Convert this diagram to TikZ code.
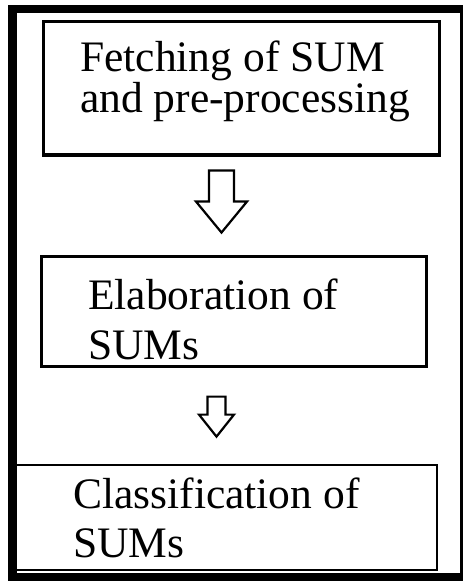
\documentclass[tikz,border=0pt]{standalone}
\usepackage{fontspec}
\setmainfont{Liberation Serif}
\usetikzlibrary{calc}
\tikzset{
  stagebox/.style={draw=black, line width=3.2pt, inner sep=0pt},
  stagetext/.style={align=left, inner sep=0pt, anchor=base west,
                    font=\fontsize{43.5}{41}\selectfont, text=black},
  hollow/.style={draw=black, fill=white, line width=2.2pt, line join=miter},
  rim/.style={draw=black, line width=8.5pt},
}

\begin{document}
\begin{tikzpicture}[x=1pt, y=-1pt]
  \useasboundingbox (0,0) rectangle (463,581);
  % outer frame, thick on three sides
  \draw[draw=black, line width=2.6pt] (461.7,9) -- (461.7,577);
  \draw[rim] (8,9) -- (463,9);
  \draw[rim] (12.5,5) -- (12.5,581);
  \draw[rim] (8,577) -- (463,577);

  % stages
  \node[stagebox, minimum width=396pt, minimum height=133.5pt] (fetch) at (241.5,88.2) {};
  \node[stagebox, minimum width=385pt, minimum height=110pt] (elab) at (234,311.5) {};
  \node[stagebox, line width=2.8pt, minimum width=422pt, minimum height=105pt] (classif) at (226,517.5) {};

  % anchor is the baseline of the last line
  \node[stagetext] (fetchtxt) at (80,112) {Fetching of SUM\\and pre-processing};
  \node[stagetext, font=\fontsize{43.5}{50}\selectfont] (elabtxt) at (88,359) {Elaboration of\\SUMs};
  \node[stagetext, font=\fontsize{43.5}{49}\selectfont] (classiftxt) at (73,557) {Classification of\\SUMs};

  % hollow arrows between the stages
  \coordinate (a1) at ($(fetch.south)+(-20,14)$);
  \draw[hollow] (a1) ++(-12.5,0) -- ++(0,31) -- ++(-13,0) -- ++(25.5,31) -- ++(25.5,-31)
    -- ++(-13,0) -- ++(0,-31) -- cycle;
  \coordinate (a2) at ($(elab.south)+(-17.5,28.5)$);
  \draw[hollow] (a2) ++(-9,0) -- ++(0,18) -- ++(-8.5,0) -- ++(17.5,22) -- ++(17.5,-22)
    -- ++(-8.5,0) -- ++(0,-18) -- cycle;
\end{tikzpicture}
\end{document}
